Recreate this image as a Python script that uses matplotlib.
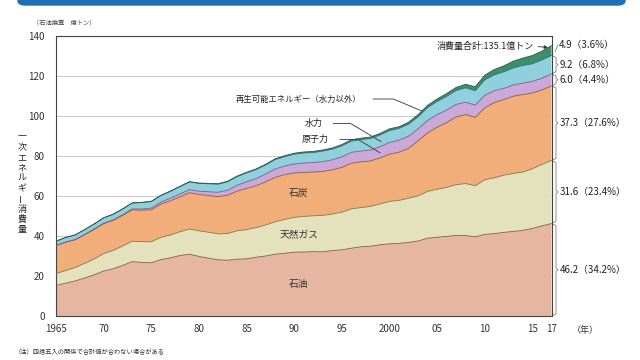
import matplotlib.pyplot as plt
import numpy as np
from matplotlib.patches import FancyBboxPatch

plt.rcParams['font.family'] = ['Noto Sans CJK JP', 'DejaVu Sans']

years = list(range(1965, 2018))

# 億トン (石油換算)
oil = [15.3, 16.4, 17.5, 19.0, 20.6, 22.5, 23.6, 25.3, 27.2, 26.8,
       26.6, 28.2, 29.1, 30.2, 30.9, 29.8, 28.9, 28.1, 27.9, 28.4,
       28.6, 29.4, 30.0, 30.9, 31.4, 31.9, 32.0, 32.2, 32.1, 32.7,
       33.1, 33.9, 34.6, 34.9, 35.6, 36.1, 36.3, 36.8, 37.5, 38.9,
       39.4, 39.8, 40.3, 40.2, 39.6, 40.8, 41.2, 41.8, 42.3, 42.8,
       43.8, 45.1, 46.2]
gas = [5.9, 6.3, 6.7, 7.3, 7.9, 8.7, 9.2, 9.7, 10.2, 10.4,
       10.5, 11.1, 11.4, 11.9, 12.6, 12.8, 13.0, 13.0, 13.3, 14.2,
       14.6, 14.8, 15.5, 16.2, 16.9, 17.4, 17.8, 17.9, 18.2, 18.3,
       18.8, 19.7, 19.6, 19.9, 20.4, 21.2, 21.5, 22.1, 22.6, 23.4,
       24.0, 24.5, 25.4, 26.0, 25.5, 27.3, 27.9, 28.6, 29.0, 29.2,
       29.8, 30.7, 31.6]
coal = [14.0, 14.2, 13.9, 14.3, 14.8, 15.0, 15.0, 15.3, 15.7, 15.7,
        16.0, 16.6, 17.1, 17.4, 18.1, 18.2, 18.3, 18.6, 19.2, 19.8,
        20.6, 20.9, 21.6, 22.2, 22.4, 22.2, 22.0, 21.9, 22.0, 22.1,
        22.4, 22.8, 22.9, 22.7, 23.0, 23.6, 24.1, 24.9, 27.5, 29.3,
        31.0, 32.4, 33.9, 34.5, 34.2, 36.0, 37.6, 37.8, 38.6, 38.7,
        37.9, 37.2, 37.3]
nuclear = [0.06, 0.08, 0.09, 0.12, 0.13, 0.18, 0.25, 0.35, 0.45, 0.6,
           0.86, 1.0, 1.3, 1.5, 1.6, 1.6, 1.95, 2.15, 2.5, 2.95,
           3.35, 3.6, 3.9, 4.2, 4.3, 4.5, 4.7, 4.75, 4.9, 5.0,
           5.25, 5.45, 5.4, 5.5, 5.7, 5.84, 6.0, 6.1, 6.0, 6.25,
           6.27, 6.35, 6.22, 6.2, 6.14, 6.26, 6.0, 5.6, 5.63, 5.75,
           5.83, 5.92, 6.0]
hydro = [2.1, 2.25, 2.3, 2.4, 2.55, 2.65, 2.75, 2.85, 2.9, 3.2,
         3.25, 3.3, 3.4, 3.65, 3.8, 3.9, 3.95, 4.05, 4.2, 4.3,
         4.4, 4.5, 4.5, 4.7, 4.7, 4.9, 5.0, 5.0, 5.25, 5.3,
         5.55, 5.6, 5.7, 5.75, 5.8, 6.0, 5.9, 6.0, 6.05, 6.35,
         6.6, 6.8, 6.95, 7.2, 7.2, 7.75, 7.9, 8.3, 8.55, 8.8,
         8.8, 9.1, 9.2]
renew = [0.05, 0.06, 0.07, 0.08, 0.09, 0.1, 0.11, 0.12, 0.13, 0.14,
         0.15, 0.16, 0.17, 0.18, 0.19, 0.2, 0.22, 0.24, 0.27, 0.3,
         0.32, 0.35, 0.37, 0.4, 0.45, 0.5, 0.52, 0.55, 0.57, 0.6,
         0.63, 0.66, 0.7, 0.73, 0.77, 0.82, 0.86, 0.95, 1.03, 1.14,
         1.25, 1.38, 1.54, 1.75, 1.98, 2.3, 2.65, 2.95, 3.35, 3.7,
         4.1, 4.4, 4.9]

series = [oil, gas, coal, nuclear, hydro, renew]
colors = ['#e6b6a2', '#e4e1bd', '#f2ae7a', '#caa8d8', '#8fd0dc', '#3e8e6a']
edges = ['#8a5a48', '#7a7650', '#8a5a38', '#7a5a8a', '#2a6a78', '#2a5a48']
right_labels = ['46.2（34.2%）', '31.6（23.4%）', '37.3（27.6%）',
                '6.0（4.4%）', '9.2（6.8%）', '4.9（3.6%）']

fig = plt.figure(figsize=(6.4, 3.6), dpi=100)
ax = fig.add_axes([56/640, 1-316/360, 495.5/640, 280/360])

# top banner
fig.patches.append(FancyBboxPatch((18/640, 1-5/360), 607/640, 20/360,
                                  boxstyle='round,pad=0,rounding_size=0.012',
                                  transform=fig.transFigure, color='#1f6fb2'))

ax.stackplot(years, *series, colors=colors, zorder=2)
cum = np.cumsum(np.array(series), axis=0)
for c, e in zip(cum, edges):
    ax.plot(years, c, color=e, lw=0.6, zorder=3)

ax.set_xlim(1965, 2017)
ax.set_ylim(0, 140)
ax.set_yticks(range(0, 141, 20))
ax.yaxis.grid(True, color='#cccccc', lw=0.8)
ax.set_axisbelow(True)
ax.tick_params(axis='y', length=0, pad=8, labelsize=7, labelcolor='#333333')

xt = [1965, 1970, 1975, 1980, 1985, 1990, 1995, 2000, 2005, 2010, 2015, 2017]
xl = ['1965', '70', '75', '80', '85', '90', '95', '2000', '05', '10', '15', '17']
ax.set_xticks(xt)
ax.set_xticklabels(xl)
ax.set_xticks(years, minor=True)
ax.tick_params(axis='x', which='both', direction='in', length=3.5, width=0.6,
               labelsize=7, labelcolor='#333333', pad=6, color='#444444')
for s in ax.spines.values():
    s.set_color('#444444')
    s.set_linewidth(0.8)

fig.text(572/640, 1-330/360, '（年）', ha='left', va='center', fontsize=6.5, color='#333333')

# unit label
fig.text(33/640, 1-23/360, '（石油換算　億トン）', ha='left', va='center', fontsize=4.5, color='#444444')

# vertical y label
ylab = '一次エネルギー消費量'
for i, ch in enumerate(ylab):
    fig.text(22/640, 1-(137+i*10.3)/360, ch, ha='center', va='center', fontsize=6.5,
             rotation=90 if ch == 'ー' else 0, color='#222222')

# layer names
ax.text(1990.5, 16, '石油', ha='center', va='center', fontsize=7, color='#333333')
ax.text(1990.5, 40.5, '天然ガス', ha='center', va='center', fontsize=7, color='#333333')
ax.text(1990.5, 61.5, '石炭', ha='center', va='center', fontsize=7, color='#333333')

# leader annotations
kw = dict(color='#333333', lw=0.6)
ax.text(1997.0, 108.5, '再生可能エネルギー（水力以外）', ha='right', va='center', fontsize=6, color='#222222')
ax.plot([1998.3, 2000.4, 2003.4], [108.5, 108.5, 102.5], **kw)
ax.text(1993.0, 96.5, '水力', ha='right', va='center', fontsize=6.5, color='#222222')
ax.plot([1994.1, 1995.9, 1999.1], [96.3, 96.3, 87.2], **kw)
ax.text(1993.6, 88.5, '原子力', ha='right', va='center', fontsize=6.5, color='#222222')
ax.plot([1994.8, 1996.7, 1999.0], [88.3, 88.3, 81.6], **kw)

ax.text(2015.2, 134.8, '消費量合計:135.1億トン', ha='right', va='center', fontsize=6.5, color='#222222')
ax.annotate('', xy=(2016.9, 134.2), xytext=(2015.3, 134.8),
            arrowprops=dict(arrowstyle='-|>', color='#333333', lw=0.6,
                            mutation_scale=5), annotation_clip=False)

# right-side braces and values
px = 1 / 9.53
lows = np.concatenate([[0], cum[:-1, -1]])
highs = cum[:, -1]
for i, (lo, hi) in enumerate(zip(lows, highs)):
    mid = (lo + hi) / 2
    if i < 5:
        x0 = 2017 + 1.5*px
        x1 = 2017 + 4.5*px
        x2 = 2017 + 6.5*px
        h = min(0.8, (hi - lo) / 6)
        ax.plot([x0, x1, x1, x2, x1, x1, x0],
                [lo + 0.3, lo + 0.3 + h, mid - h, mid, mid + h, hi - 0.3 - h, hi - 0.3],
                color='#666666', lw=0.5, clip_on=False)
        ax.text(2017 + 8*px, mid, right_labels[i], ha='left', va='center',
                fontsize=7, color='#222222')
    else:
        ax.plot([2017 + 3.5*px, 2017 + 6.5*px], [132.2, 135.5],
                color='#666666', lw=0.5, clip_on=False)
        ax.text(2017 + 7.5*px, 135.5, right_labels[i], ha='left', va='center',
                fontsize=7, color='#222222')

fig.text(15/640, 1-352/360, '（注）四捨五入の関係で合計値が合わない場合がある',
         ha='left', va='center', fontsize=4.5, color='#333333')

fig.savefig('out.png', dpi=100)
